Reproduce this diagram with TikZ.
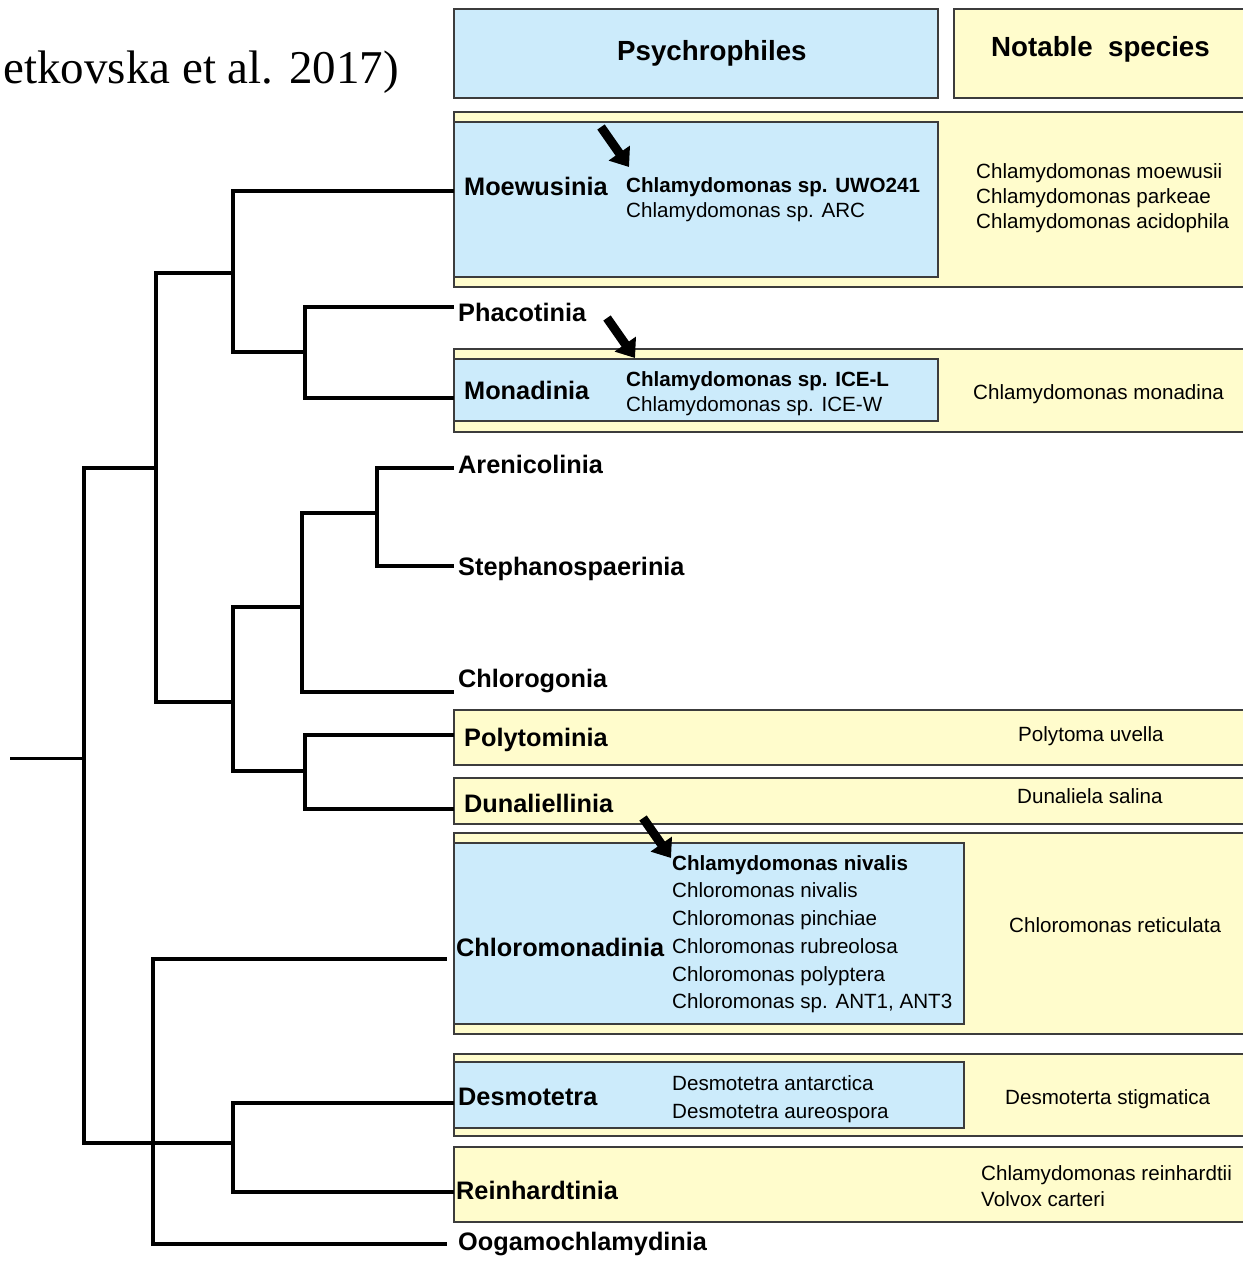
\documentclass[tikz,border=0pt]{standalone}
\usepackage{fontspec}
\setmainfont{Liberation Sans}
\newfontfamily\titleserif{Liberation Serif}
\usetikzlibrary{arrows.meta}
\definecolor{blu}{RGB}{204,235,251}
\definecolor{yel}{RGB}{255,252,204}
\definecolor{boxline}{RGB}{60,60,60}
\begin{document}
\begin{tikzpicture}[x=1pt,y=-1pt,
  tree/.style={line width=4.5pt},
  stem/.style={line width=3pt},
  ybox/.style={draw=boxline,fill=yel,line width=1.8pt},
  bbox/.style={draw=boxline,fill=blu,line width=1.8pt},
  grp/.style={font=\fontsize{25.3}{29}\selectfont\bfseries,anchor=base west,inner sep=0pt},
  hdr/.style={font=\fontsize{27.7}{31}\selectfont\bfseries,anchor=base west,inner sep=0pt},
  spc/.style={font=\fontsize{20.6}{24}\selectfont,anchor=base west,inner sep=0pt},
  spcb/.style={font=\fontsize{20.6}{24}\selectfont\bfseries,anchor=base west,inner sep=0pt},
  fatarrow/.style={line width=9pt,-{Triangle[length=17pt,width=25pt]}}
]
\useasboundingbox (0,0) rectangle (1243,1262);

% title fragment
\node[font=\titleserif\fontsize{47}{51}\selectfont,anchor=base east,inner sep=0pt] (title) at (399,83) {etkovska et al. 2017)};

% header boxes
\draw[bbox] (454,9) rectangle (938,98);
\draw[ybox] (954,9) rectangle (1250,98);
\node[hdr] (hpsy) at (617,60) {Psychrophiles};
\node[hdr] (hnot) at (991,56) {Notable\ \ species};

% clade boxes
\draw[ybox] (454,112) rectangle (1250,287);
\draw[bbox] (454,122) rectangle (938,277);
\draw[ybox] (454,349) rectangle (1250,432);
\draw[bbox] (454,359) rectangle (938,421);
\draw[ybox] (454,710) rectangle (1250,765);
\draw[ybox] (454,778) rectangle (1250,824);
\draw[ybox] (454,833) rectangle (1250,1034);
\draw[bbox] (454,843) rectangle (964,1024);
\draw[ybox] (454,1054) rectangle (1250,1136);
\draw[bbox] (454,1062) rectangle (964,1128);
\draw[ybox] (454,1147) rectangle (1250,1222);

% tree coordinates
\coordinate (Rs) at (10,758);
\coordinate (R) at (84,758);
\coordinate (N1) at (156,468);
\coordinate (N2) at (233,273);
\coordinate (N3) at (305,352);
\coordinate (N4) at (233,702);
\coordinate (N5) at (302,607);
\coordinate (N6) at (377,513);
\coordinate (N7) at (305,771);
\coordinate (N8) at (153,1143);
\coordinate (N9) at (233,1143);
\coordinate (Lmoe) at (454,191);
\coordinate (Lpha) at (454,307);
\coordinate (Lmon) at (454,398);
\coordinate (Lare) at (454,468);
\coordinate (Lste) at (454,566);
\coordinate (Lchg) at (454,692);
\coordinate (Lpol) at (454,735);
\coordinate (Ldun) at (454,809);
\coordinate (Lchm) at (447,959);
\coordinate (Ldes) at (454,1103);
\coordinate (Lrei) at (454,1192);
\coordinate (Loog) at (447,1244);

% tree
\draw[stem] (Rs) -- (R);
\draw[tree] (R) |- (N1);
\draw[tree] (R) |- (N8);
\draw[tree] (N1) |- (N2);
\draw[tree] (N1) |- (N4);
\draw[tree] (N2) |- (Lmoe);
\draw[tree] (N2) |- (N3);
\draw[tree] (N3) |- (Lpha);
\draw[tree] (N3) |- (Lmon);
\draw[tree] (N4) |- (N5);
\draw[tree] (N4) |- (N7);
\draw[tree] (N5) |- (N6);
\draw[tree] (N5) |- (Lchg);
\draw[tree] (N6) |- (Lare);
\draw[tree] (N6) |- (Lste);
\draw[tree] (N7) |- (Lpol);
\draw[tree] (N7) |- (Ldun);
\draw[tree] (N8) |- (Lchm);
\draw[tree] (N8) |- (N9);
\draw[tree] (N8) |- (Loog);
\draw[tree] (N9) |- (Ldes);
\draw[tree] (N9) |- (Lrei);

% group labels
\node[grp] (moe) at (464,195) {Moewusinia};
\node[grp] (pha) at (458,321) {Phacotinia};
\node[grp] (mon) at (464,399) {Monadinia};
\node[grp] (are) at (458,473) {Arenicolinia};
\node[grp] (ste) at (458,575) {Stephanospaerinia};
\node[grp] (chg) at (458,687) {Chlorogonia};
\node[grp] (pol) at (464,746) {Polytominia};
\node[grp] (dun) at (464,812) {Dunaliellinia};
\node[grp] (chm) at (456,956) {Chloromonadinia};
\node[grp] (des) at (458,1105) {Desmotetra};
\node[grp] (rei) at (456,1199) {Reinhardtinia};
\node[grp] (oog) at (458,1250) {Oogamochlamydinia};

% psychrophiles
\node[spcb] (p1) at (626,192) {Chlamydomonas sp. UWO241};
\node[spc] (p2) at (626,217) {Chlamydomonas sp. ARC};
\node[spcb] (p3) at (626,386) {Chlamydomonas sp. ICE-L};
\node[spc] (p4) at (626,411) {Chlamydomonas sp. ICE-W};
\node[spcb] (p5) at (672,870) {Chlamydomonas nivalis};
\node[spc] (p6) at (672,897) {Chloromonas nivalis};
\node[spc] (p7) at (672,925) {Chloromonas pinchiae};
\node[spc] (p8) at (672,953) {Chloromonas rubreolosa};
\node[spc] (p9) at (672,981) {Chloromonas polyptera};
\node[spc] (p10) at (672,1008) {Chloromonas sp. ANT1, ANT3};
\node[spc] (p11) at (672,1090) {Desmotetra antarctica};
\node[spc] (p12) at (672,1118) {Desmotetra aureospora};

% notable species
\node[spc] (s1) at (976,178) {Chlamydomonas moewusii};
\node[spc] (s2) at (976,203) {Chlamydomonas parkeae};
\node[spc] (s3) at (976,228) {Chlamydomonas acidophila};
\node[spc] (s4) at (973,399) {Chlamydomonas monadina};
\node[spc] (s5) at (1018,741) {Polytoma uvella};
\node[spc] (s6) at (1017,803) {Dunaliela salina};
\node[spc] (s7) at (1009,932) {Chloromonas reticulata};
\node[spc] (s8) at (1005,1104) {Desmoterta stigmatica};
\node[spc] (s9) at (981,1180) {Chlamydomonas reinhardtii};
\node[spc] (s10) at (981,1206) {Volvox carteri};

% arrows
\coordinate (a1s) at (601,127); \coordinate (a1e) at (629,167);
\coordinate (a2s) at (607,318); \coordinate (a2e) at (635,358);
\coordinate (a3s) at (643,818); \coordinate (a3e) at (671,858);
\draw[fatarrow] (a1s) -- (a1e);
\draw[fatarrow] (a2s) -- (a2e);
\draw[fatarrow] (a3s) -- (a3e);
\end{tikzpicture}
\end{document}
